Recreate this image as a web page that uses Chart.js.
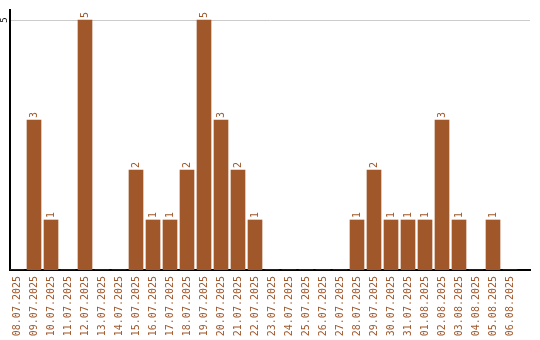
<!doctype html>
<html>
<head>
  <meta charset="utf-8">
  <title>Daily count</title>
  <style>
    html, body { margin: 0; padding: 0; background: #fff; }
  </style>
</head>
<body>
  <canvas id="myChart" width="540" height="340"></canvas>

  <script src="https://cdn.jsdelivr.net/npm/chart.js"></script>
  <script>
    const days = [
      '08.07.2025', '09.07.2025', '10.07.2025', '11.07.2025', '12.07.2025', '13.07.2025',
      '14.07.2025', '15.07.2025', '16.07.2025', '17.07.2025', '18.07.2025', '19.07.2025',
      '20.07.2025', '21.07.2025', '22.07.2025', '23.07.2025', '24.07.2025', '25.07.2025',
      '26.07.2025', '27.07.2025', '28.07.2025', '29.07.2025', '30.07.2025', '31.07.2025',
      '01.08.2025', '02.08.2025', '03.08.2025', '04.08.2025', '05.08.2025', '06.08.2025'
    ];
    const counts = [0, 3, 1, 0, 5, 0, 0, 2, 1, 1, 2, 5, 3, 2, 1, 0, 0, 0, 0, 0, 1, 2, 1, 1, 1, 3, 1, 0, 1, 0];
    const yTicks = [5];

    const brown = '#a0572a';
    const mono = '"DejaVu Sans Mono", monospace';

    // slots are 17px wide on a 520px axis, first slot centred 7px in
    const xMin = -7 / 17;
    const xMax = xMin + 520 / 17;

    // value labels above bars + rotated y tick label
    const labelsPlugin = {
      id: 'labels',
      afterDatasetsDraw(chart) {
        const ctx = chart.ctx;
        const meta = chart.getDatasetMeta(0);
        ctx.save();
        ctx.font = '10px ' + mono;
        ctx.fillStyle = brown;
        ctx.textAlign = 'left';
        ctx.textBaseline = 'middle';
        meta.data.forEach((bar, i) => {
          if (!counts[i]) return;
          ctx.save();
          ctx.translate(bar.x, bar.y - 2);
          ctx.rotate(-Math.PI / 2);
          ctx.fillText(String(counts[i]), 0, 0);
          ctx.restore();
        });
        const ys = chart.scales.y;
        ctx.fillStyle = '#000';
        ctx.font = '9px ' + mono;
        ctx.textAlign = 'center';
        yTicks.forEach((v) => {
          ctx.save();
          ctx.translate(5, ys.getPixelForValue(v));
          ctx.rotate(-Math.PI / 2);
          ctx.fillText(String(v), 0, 0);
          ctx.restore();
        });
        ctx.restore();
      }
    };

    new Chart(document.getElementById('myChart'), {
      type: 'bar',
      data: {
        datasets: [{
          data: counts.map((v, i) => ({ x: i, y: v })),
          backgroundColor: brown,
          barThickness: 14
        }]
      },
      options: {
        responsive: false,
        animation: false,
        layout: { padding: { top: 10, right: 10, left: 0, bottom: 0 } },
        plugins: { legend: { display: false }, tooltip: { enabled: false } },
        scales: {
          x: {
            type: 'linear',
            offset: false,
            min: xMin,
            max: xMax,
            afterFit(s) { s.height = 70; },
            afterBuildTicks(s) { s.ticks = days.map((d, i) => ({ value: i })); },
            grid: { display: false, drawTicks: false },
            border: { color: '#000', width: 2 },
            ticks: {
              color: brown,
              font: { family: mono, size: 10 },
              minRotation: 90,
              maxRotation: 90,
              autoSkip: false,
              padding: 6,
              callback: (v) => days[v]
            }
          },
          y: {
            min: 0,
            max: 5.2,
            afterFit(s) { s.width = 10; },
            afterBuildTicks(s) { s.ticks = yTicks.map((v) => ({ value: v })); },
            border: { color: '#000', width: 2 },
            grid: { color: '#cccccc', drawTicks: false },
            ticks: { display: false }
          }
        }
      },
      plugins: [labelsPlugin]
    });
  </script>
</body>
</html>
